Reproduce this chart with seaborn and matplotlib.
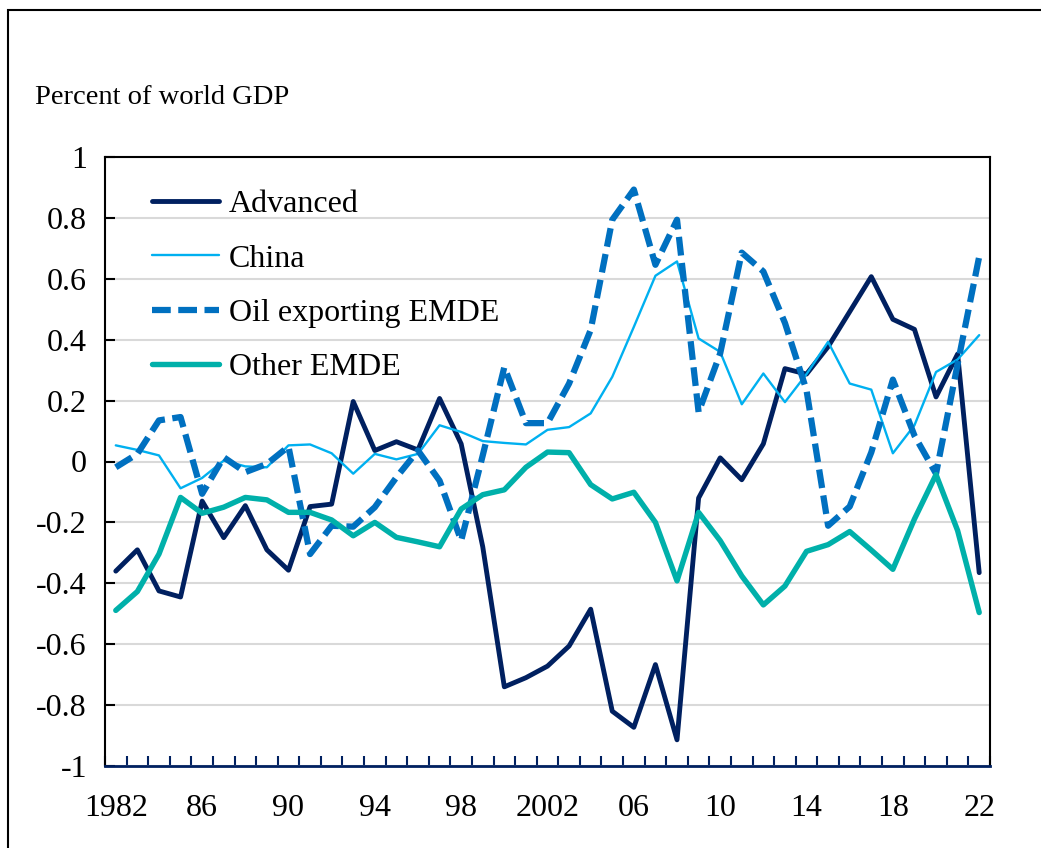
import numpy as np
import pandas as pd
import matplotlib
matplotlib.use("Agg")
import matplotlib.pyplot as plt
import seaborn as sns
from matplotlib.patches import Rectangle

years = list(range(1982, 2023))

advanced = [-0.36, -0.29, -0.425, -0.445, -0.13, -0.25, -0.145, -0.29, -0.357, -0.148,
            -0.14, 0.197, 0.036, 0.065, 0.038, 0.207, 0.058, -0.28, -0.74, -0.71,
            -0.672, -0.606, -0.485, -0.82, -0.873, -0.667, -0.914, -0.12, 0.012, -0.06,
            0.058, 0.305, 0.287, 0.377, 0.492, 0.607, 0.467, 0.434, 0.212, 0.353,
            -0.365]

china = [0.053, 0.038, 0.02, -0.088, -0.054, 0.003, -0.016, -0.019, 0.053, 0.056,
         0.027, -0.04, 0.025, 0.007, 0.025, 0.119, 0.097, 0.067, 0.061, 0.056,
         0.104, 0.113, 0.158, 0.278, 0.442, 0.61, 0.657, 0.404, 0.36, 0.188,
         0.289, 0.195, 0.287, 0.393, 0.256, 0.236, 0.027, 0.119, 0.294, 0.335,
         0.415]

oil = [-0.019, 0.025, 0.135, 0.146, -0.106, 0.014, -0.035, -0.008, 0.049, -0.304,
       -0.211, -0.214, -0.15, -0.052, 0.036, -0.063, -0.26, 0.02, 0.31, 0.126,
       0.126, 0.256, 0.432, 0.794, 0.893, 0.646, 0.794, 0.162, 0.355, 0.686,
       0.624, 0.455, 0.234, -0.211, -0.148, 0.03, 0.269, 0.085, -0.04, 0.32,
       0.673]

other = [-0.489, -0.427, -0.304, -0.118, -0.17, -0.15, -0.118, -0.126, -0.167, -0.167,
         -0.192, -0.244, -0.2, -0.249, -0.264, -0.28, -0.156, -0.109, -0.093, -0.019,
         0.031, 0.029, -0.076, -0.123, -0.101, -0.2, -0.392, -0.167, -0.26, -0.376,
         -0.471, -0.409, -0.295, -0.273, -0.23, -0.291, -0.354, -0.189, -0.043, -0.227,
         -0.496]

series_names = ["Advanced", "China", "Oil exporting EMDE", "Other EMDE"]
tick_years = [1982, 1986, 1990, 1994, 1998, 2002, 2006, 2010, 2014, 2018, 2022]
tick_labels = ["1982", "86", "90", "94", "98", "2002", "06", "10", "14", "18", "22"]
y_ticks = [1, 0.8, 0.6, 0.4, 0.2, 0, -0.2, -0.4, -0.6, -0.8, -1]
y_labels = ["1", "0.8", "0.6", "0.4", "0.2", "0", "-0.2", "-0.4", "-0.6", "-0.8", "-1"]

df = pd.DataFrame({"year": years, "Advanced": advanced, "China": china,
                   "Oil exporting EMDE": oil, "Other EMDE": other})

sns.set_theme(style="white")
plt.rcParams["font.family"] = ["Liberation Serif", "DejaVu Serif"]
plt.rcParams["text.color"] = "black"
plt.rcParams["xtick.labelcolor"] = "black"
plt.rcParams["ytick.labelcolor"] = "black"

W, H = 1041, 848
fig = plt.figure(figsize=(W / 100, H / 100), dpi=100)
ax = fig.add_axes([105 / W, 1 - 766 / H, (990 - 105) / W, (766 - 157) / H])

styles = {
    "Advanced": dict(color="#002060", lw=3.5, dashes=None),
    "China": dict(color="#00B0F0", lw=1.7, dashes=None),
    "Oil exporting EMDE": dict(color="#0070C0", lw=4.5, dashes=(3.0, 1.2)),
    "Other EMDE": dict(color="#00B0AA", lw=3.9, dashes=None),
}

for name in series_names:
    st = styles[name]
    sns.lineplot(data=df, x="year", y=name, ax=ax, color=st["color"], lw=st["lw"],
                 label=name, solid_capstyle="round", dash_capstyle="butt")
    if st["dashes"] is not None:
        ax.lines[-1].set_dashes(st["dashes"])

ax.set_xlim(1981.5, 2022.5)
ax.set_ylim(-1, 1)
ax.set_xlabel("")
ax.set_ylabel("")

ax.set_yticks(y_ticks)
ax.set_yticklabels(y_labels, fontsize=23)
ax.yaxis.grid(True, color="#D9D9D9", lw=1.5)
ax.xaxis.grid(False)
ax.set_axisbelow(True)

ax.set_xticks(tick_years)
ax.set_xticklabels(tick_labels, fontsize=23)
ax.set_xticks(np.arange(1981.5, 2023.0, 1.0), minor=True)
ax.tick_params(axis="x", which="major", length=0, pad=20, labelcolor="black")
ax.tick_params(axis="x", which="minor", direction="in", length=7, width=1.5,
               color="#002060", top=False, bottom=True)
ax.tick_params(axis="y", which="major", direction="in", length=7, width=1.5,
               color="black", pad=13, left=True, labelcolor="black")

for side in ["left", "right", "top"]:
    ax.spines[side].set_color("black")
    ax.spines[side].set_linewidth(1.5)
    ax.spines[side].set_visible(True)
ax.spines["bottom"].set_color("#002060")
ax.spines["bottom"].set_linewidth(2.0)
ax.spines["bottom"].set_visible(True)

handles, labels = ax.get_legend_handles_labels()
leg = ax.legend(handles, labels, loc="upper left",
                bbox_to_anchor=(152 / W, 1 - 190 / H), bbox_transform=fig.transFigure,
                frameon=False, fontsize=23, handlelength=2.1, handletextpad=0.3,
                labelspacing=0.78, borderpad=0, borderaxespad=0, labelcolor="black")

fig.text(35 / W, 1 - 104 / H, "Percent of world GDP", fontsize=20.5,
         ha="left", va="baseline", color="black")

fig.patches.append(Rectangle((8 / W, -0.01), 1.05, 1 - 10 / H + 0.01,
                             transform=fig.transFigure, fill=False,
                             edgecolor="black", lw=1.5))

fig.savefig("out.png", dpi=100, facecolor="white")
